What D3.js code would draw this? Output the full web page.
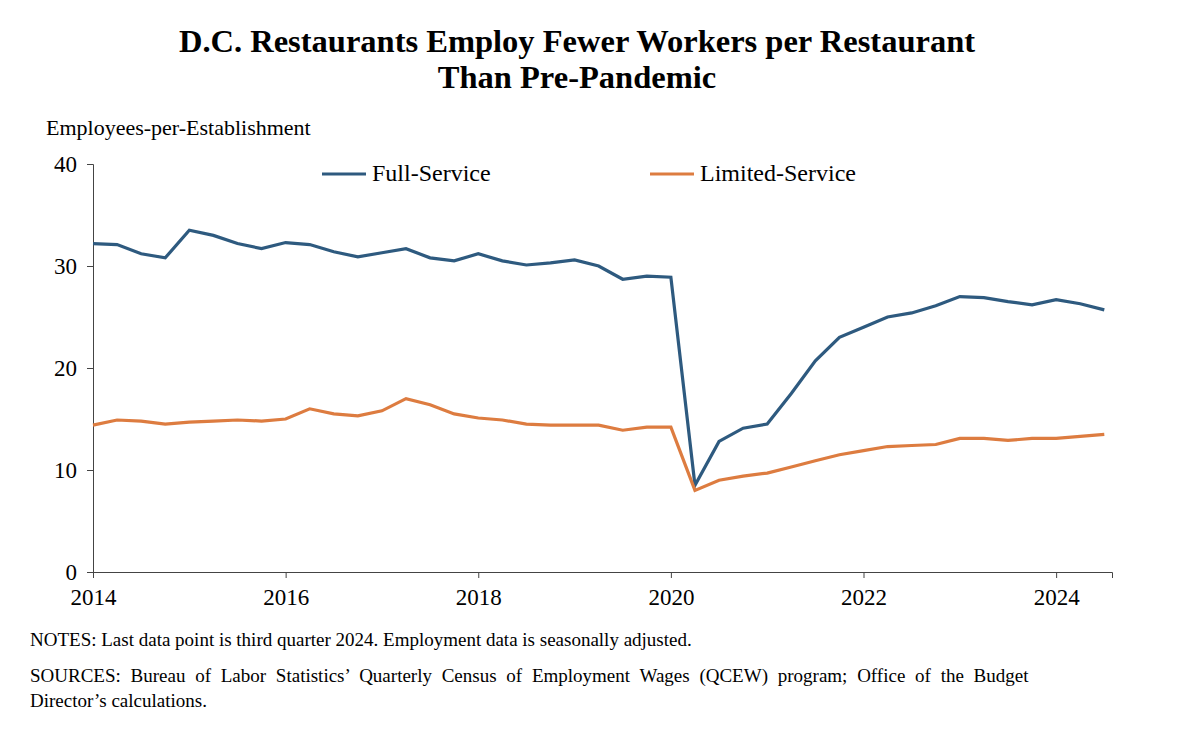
<!DOCTYPE html>
<html><head><meta charset="utf-8">
<script src="https://cdn.jsdelivr.net/npm/d3@7"></script>
<style>
body{margin:0;background:#fff;font-family:"Liberation Serif","Times New Roman",serif;}
</style></head>
<body><div id="grafico"></div>
<script>
// datos trimestrales 2014Q1 - 2024Q3
var fullService = [32.2,32.1,31.2,30.8,33.5,33.0,32.2,31.7,32.3,32.1,31.4,30.9,31.3,31.7,30.8,30.5,31.2,30.5,30.1,30.3,30.6,30.0,28.7,29.0,28.9,8.5,12.8,14.1,14.5,17.5,20.7,23.0,24.0,25.0,25.4,26.1,27.0,26.9,26.5,26.2,26.7,26.3,25.7];
var limitedService = [14.4,14.9,14.8,14.5,14.7,14.8,14.9,14.8,15.0,16.0,15.5,15.3,15.8,17.0,16.4,15.5,15.1,14.9,14.5,14.4,14.4,14.4,13.9,14.2,14.2,8.0,9.0,9.4,9.7,10.3,10.9,11.5,11.9,12.3,12.4,12.5,13.1,13.1,12.9,13.1,13.1,13.3,13.5];
var xTicks = [2014,2016,2018,2020,2022,2024];
var yTicks = [0,10,20,30,40];

var margin = {left: 93, right: 88, top: 164, bottom: 172};
var width = 1200 - margin.left - margin.right,
    height = 744 - margin.top - margin.bottom;

var svg = d3.select("#grafico").append("svg")
    .attr("width", 1200).attr("height", 744);

svg.append("text").attr("x", 577).attr("y", 52).attr("text-anchor","middle")
    .attr("font-size", 32.5).attr("font-weight","bold").text("D.C. Restaurants Employ Fewer Workers per Restaurant");
svg.append("text").attr("x", 577).attr("y", 88).attr("text-anchor","middle")
    .attr("font-size", 32.5).attr("font-weight","bold").text("Than Pre-Pandemic");
svg.append("text").attr("x", 46).attr("y", 135).attr("font-size", 22).text("Employees-per-Establishment");

var x = d3.scaleLinear().domain([2014, 2024.58]).range([0, width]);
var y = d3.scaleLinear().domain([0, 40]).range([height, 0]);

var g = svg.append("g").attr("transform","translate("+margin.left+","+margin.top+")");

var yAxis = g.append("g").call(d3.axisLeft(y).tickValues(yTicks).tickSize(6).tickFormat(d3.format("d")));
var xAxis = g.append("g").attr("transform","translate(0,"+height+")")
    .call(d3.axisBottom(x).tickValues(xTicks).tickSize(6).tickFormat(d3.format("d")));
[xAxis, yAxis].forEach(function(a){
  a.selectAll("text").attr("font-size", 23).attr("font-family","Liberation Serif").attr("fill","#000");
  a.selectAll("line,path").attr("stroke","#444");
});
xAxis.selectAll("text").attr("dy","1.05em");
yAxis.selectAll("text").attr("dx","-0.3em");

var line = d3.line().x(function(d,i){ return x(2014 + i/4); }).y(function(d){ return y(d); });
var series = [{name:"Full-Service", data: fullService, color:"#2e5a7f", lx: 322},
              {name:"Limited-Service", data: limitedService, color:"#dd7c40", lx: 650}];
series.forEach(function(s){
  g.append("path").datum(s.data).attr("d", line).attr("fill","none")
    .attr("stroke", s.color).attr("stroke-width", 3.2);
  svg.append("line").attr("x1", s.lx).attr("x2", s.lx+44).attr("y1",174).attr("y2",174)
    .attr("stroke", s.color).attr("stroke-width", 3.2);
  svg.append("text").attr("x", s.lx+50).attr("y", 181).attr("font-size", 24).text(s.name);
});

svg.append("text").attr("x", 30).attr("y", 646).attr("font-size", 19)
  .text("NOTES: Last data point is third quarter 2024. Employment data is seasonally adjusted.");
svg.append("text").attr("x", 30).attr("y", 682).attr("font-size", 19).attr("word-spacing", 5)
  .text("SOURCES: Bureau of Labor Statistics’ Quarterly Census of Employment Wages (QCEW) program; Office of the Budget");
svg.append("text").attr("x", 30).attr("y", 707).attr("font-size", 19)
  .text("Director’s calculations.");
</script></body></html>
